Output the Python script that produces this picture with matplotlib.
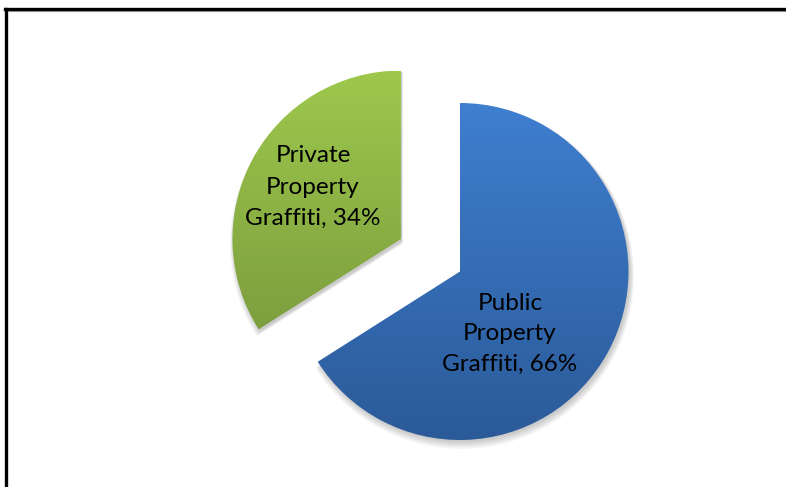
import numpy as np
import matplotlib.pyplot as plt
from matplotlib.patches import Wedge
from matplotlib.colors import LinearSegmentedColormap

labels = ["Public\nProperty\nGraffiti, 66%", "Private\nProperty\nGraffiti, 34%"]
shares = [66, 34]
explode = [0.0, 0.40]
top_colors = ["#3F7FD0", "#9DC84C"]
bottom_colors = ["#2B5A98", "#74923A"]

W, H = 786, 487
fig = plt.figure(figsize=(W / 100, H / 100), dpi=100)
ax = fig.add_axes([0, 0, 1, 1])

cx, cy, r = 460, H - 271.5, 168.5

# pie offsets are in data units, so scale the explode fractions by the radius
wedges, texts = ax.pie(shares, labels=labels, explode=[e * r for e in explode],
                       startangle=90, counterclock=False, radius=r, center=(cx, cy),
                       labeldistance=None, frame=True,
                       wedgeprops=dict(linewidth=0))

# soft drop shadow under each slice
for w in wedges:
    (x0, y0), rad = w.center, w.r
    for k in range(6):
        sh = Wedge((x0 + 1.5, y0 - 2 - k * 0.6), rad + k * 0.8, w.theta1, w.theta2,
                   facecolor="black", alpha=0.035, linewidth=0, zorder=0.5)
        ax.add_patch(sh)

# vertical gradient fill clipped to each slice
for w, c1, c2 in zip(wedges, top_colors, bottom_colors):
    w.set_facecolor("none")
    (x0, y0), rad = w.center, w.r
    cmap = LinearSegmentedColormap.from_list("g", [c2, c1])
    grad = np.linspace(0, 1, 256).reshape(-1, 1)
    im = ax.imshow(grad, cmap=cmap, origin="lower", aspect="auto",
                   extent=[x0 - rad, x0 + rad, y0 - rad, y0 + rad], zorder=1)
    im.set_clip_path(w)

ax.set_xlim(0, W)
ax.set_ylim(0, H)
ax.axis("off")

ax.text(510, H - 334, labels[0], ha="center", va="center", fontsize=17.5,
        family="Lato", linespacing=1.55, zorder=3)
ax.text(313, H - 187, labels[1], ha="center", va="center", fontsize=17.5,
        family="Lato", linespacing=1.6, zorder=3)

# frame on left and top
fig.add_artist(plt.Line2D([6.5 / W, 6.5 / W], [0, 1 - 8.5 / H], transform=fig.transFigure,
                          color="black", linewidth=2.4))
fig.add_artist(plt.Line2D([5 / W, 1], [1 - 8.5 / H, 1 - 8.5 / H], transform=fig.transFigure,
                          color="black", linewidth=2.4))
fig.add_artist(plt.Line2D([8 / W, 1], [1 - 11 / H, 1 - 11 / H], transform=fig.transFigure,
                          color="#888888", linewidth=0.8))

fig.savefig("out.png", dpi=100)
